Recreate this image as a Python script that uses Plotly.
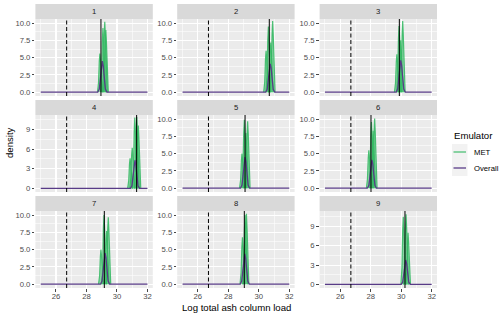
import plotly.graph_objects as go

# ---------------- data ----------------
PANELS = ["1", "2", "3", "4", "5", "6", "7", "8", "9"]
OBSERVED = [28.95, 30.69, 29.88, 31.29, 29.10, 28.02, 29.17, 29.05, 30.25]
THRESHOLD = 26.7
X_TICKS = [26, 28, 30, 32]
X_MINOR = [25, 27, 29, 31]
Y_TICKS_A = [0, 2.5, 5, 7.5, 10]
Y_LABELS_A = ["0.0", "2.5", "5.0", "7.5", "10.0"]
Y_MINOR_A = [1.25, 3.75, 6.25, 8.75]
Y_TICKS_B = [0, 3, 6, 9]
Y_LABELS_B = ["0", "3", "6", "9"]
Y_MINOR_B = [1.5, 4.5, 7.5, 10.5]
SERIES = ["MET", "Overall"]

# Overall emulator density, one curve per panel
OVERALL_X = [
    [25, 28.74, 28.84, 28.92, 28.98, 29.04, 29.10, 29.16, 29.24, 29.34, 32],
    [25, 30.45, 30.55, 30.63, 30.69, 30.75, 30.81, 30.87, 30.95, 31.05, 32],
    [25, 29.67, 29.77, 29.85, 29.91, 29.97, 30.03, 30.09, 30.17, 30.27, 32],
    [25, 30.88, 30.98, 31.06, 31.12, 31.18, 31.24, 31.30, 31.38, 31.48, 32],
    [25, 28.80, 28.90, 28.98, 29.04, 29.10, 29.16, 29.22, 29.30, 29.40, 32],
    [25, 27.78, 27.88, 27.96, 28.02, 28.08, 28.14, 28.20, 28.28, 28.38, 32],
    [25, 28.92, 29.02, 29.10, 29.16, 29.22, 29.28, 29.34, 29.42, 29.52, 32],
    [25, 28.78, 28.88, 28.96, 29.02, 29.08, 29.14, 29.20, 29.28, 29.38, 32],
    [25, 30.00, 30.10, 30.18, 30.24, 30.30, 30.36, 30.42, 30.50, 30.60, 32],
]
OVERALL_Y = [
    [0, 0, 0.45, 2.0, 3.8, 4.5, 3.8, 2.0, 0.45, 0, 0],
    [0, 0, 0.40, 1.8, 3.5, 4.1, 3.5, 1.8, 0.40, 0, 0],
    [0, 0, 0.45, 2.0, 3.9, 4.6, 3.9, 2.0, 0.45, 0, 0],
    [0, 0, 0.40, 1.9, 3.6, 4.3, 3.6, 1.9, 0.40, 0, 0],
    [0, 0, 0.45, 2.0, 3.8, 4.5, 3.8, 2.0, 0.45, 0, 0],
    [0, 0, 0.40, 1.8, 3.5, 4.1, 3.5, 1.8, 0.40, 0, 0],
    [0, 0, 0.45, 2.0, 3.8, 4.5, 3.8, 2.0, 0.45, 0, 0],
    [0, 0, 0.45, 1.95, 3.7, 4.4, 3.7, 1.95, 0.45, 0, 0],
    [0, 0, 0.35, 1.65, 3.2, 3.8, 3.2, 1.65, 0.35, 0, 0],
]

# MET emulator densities (several curves per panel)
met_p1_x = [[28.72, 28.79, 28.84, 28.88, 28.92, 28.97, 29.04],
            [28.92, 28.99, 29.04, 29.08, 29.12, 29.17, 29.24],
            [29.04, 29.11, 29.16, 29.20, 29.24, 29.29, 29.36],
            [29.11, 29.18, 29.23, 29.27, 29.31, 29.36, 29.43]]
met_p1_y = [[0, 1.4, 4.5, 5.6, 4.5, 1.4, 0],
            [0, 2.3, 7.4, 9.3, 7.4, 2.3, 0],
            [0, 2.6, 8.2, 10.2, 8.2, 2.6, 0],
            [0, 2.2, 7.2, 9.0, 7.2, 2.2, 0]]
met_p2_x = [[30.32, 30.39, 30.44, 30.48, 30.52, 30.57, 30.64],
            [30.47, 30.54, 30.59, 30.63, 30.67, 30.72, 30.79],
            [30.63, 30.70, 30.75, 30.79, 30.83, 30.88, 30.95],
            [30.75, 30.82, 30.87, 30.91, 30.95, 31.00, 31.07]]
met_p2_y = [[0, 1.5, 4.8, 6.0, 4.8, 1.5, 0],
            [0, 2.4, 7.6, 9.5, 7.6, 2.4, 0],
            [0, 1.8, 5.8, 7.2, 5.8, 1.8, 0],
            [0, 2.6, 8.2, 10.3, 8.2, 2.6, 0]]
met_p3_x = [[29.56, 29.63, 29.68, 29.72, 29.76, 29.81, 29.88],
            [29.70, 29.77, 29.82, 29.86, 29.90, 29.95, 30.02],
            [29.81, 29.88, 29.93, 29.97, 30.01, 30.06, 30.13],
            [29.94, 30.01, 30.06, 30.10, 30.14, 30.19, 30.26]]
met_p3_y = [[0, 1.4, 4.4, 5.5, 4.4, 1.4, 0],
            [0, 2.4, 7.7, 9.6, 7.7, 2.4, 0],
            [0, 1.9, 6.0, 7.5, 6.0, 1.9, 0],
            [0, 2.6, 8.2, 10.3, 8.2, 2.6, 0]]
met_p4_x = [[30.70, 30.77, 30.82, 30.86, 30.90, 30.95, 31.02],
            [30.84, 30.91, 30.96, 31.00, 31.04, 31.09, 31.16],
            [31.01, 31.08, 31.13, 31.17, 31.21, 31.26, 31.33],
            [31.14, 31.21, 31.26, 31.30, 31.34, 31.39, 31.46],
            [31.24, 31.31, 31.36, 31.40, 31.44, 31.49, 31.56]]
met_p4_y = [[0, 1.2, 3.7, 4.6, 3.7, 1.2, 0],
            [0, 1.6, 5.0, 6.2, 5.0, 1.6, 0],
            [0, 2.7, 8.6, 10.8, 8.6, 2.7, 0],
            [0, 2.7, 8.7, 10.9, 8.7, 2.7, 0],
            [0, 2.4, 7.7, 9.6, 7.7, 2.4, 0]]
met_p5_x = [[28.74, 28.81, 28.86, 28.90, 28.94, 28.99, 29.06],
            [28.89, 28.96, 29.01, 29.05, 29.09, 29.14, 29.21],
            [29.00, 29.07, 29.12, 29.16, 29.20, 29.25, 29.32],
            [29.11, 29.18, 29.23, 29.27, 29.31, 29.36, 29.43]]
met_p5_y = [[0, 1.2, 4.0, 5.0, 4.0, 1.2, 0],
            [0, 2.5, 7.9, 9.9, 7.9, 2.5, 0],
            [0, 2.0, 6.4, 8.0, 6.4, 2.0, 0],
            [0, 2.4, 7.8, 9.7, 7.8, 2.4, 0]]
met_p6_x = [[27.72, 27.79, 27.84, 27.88, 27.92, 27.97, 28.04],
            [27.89, 27.96, 28.01, 28.05, 28.09, 28.14, 28.21],
            [28.00, 28.07, 28.12, 28.16, 28.20, 28.25, 28.32],
            [28.10, 28.17, 28.22, 28.26, 28.30, 28.35, 28.42]]
met_p6_y = [[0, 1.4, 4.4, 5.5, 4.4, 1.4, 0],
            [0, 2.4, 7.7, 9.6, 7.7, 2.4, 0],
            [0, 2.1, 6.6, 8.3, 6.6, 2.1, 0],
            [0, 2.5, 8.1, 10.1, 8.1, 2.5, 0]]
met_p7_x = [[28.79, 28.86, 28.91, 28.95, 28.99, 29.04, 29.11],
            [28.99, 29.06, 29.11, 29.15, 29.19, 29.24, 29.31],
            [29.16, 29.23, 29.28, 29.32, 29.36, 29.41, 29.48],
            [29.27, 29.34, 29.39, 29.43, 29.47, 29.52, 29.59]]
met_p7_y = [[0, 1.2, 4.0, 5.0, 4.0, 1.2, 0],
            [0, 2.5, 8.0, 10.0, 8.0, 2.5, 0],
            [0, 1.9, 6.2, 7.7, 6.2, 1.9, 0],
            [0, 2.4, 7.8, 9.7, 7.8, 2.4, 0]]
met_p8_x = [[28.77, 28.84, 28.89, 28.93, 28.97, 29.02, 29.09],
            [28.94, 29.01, 29.06, 29.10, 29.14, 29.19, 29.26],
            [29.03, 29.10, 29.15, 29.19, 29.23, 29.28, 29.35]]
met_p8_y = [[0, 1.7, 5.4, 6.8, 5.4, 1.7, 0],
            [0, 2.5, 8.0, 10.0, 8.0, 2.5, 0],
            [0, 2.6, 8.2, 10.2, 8.2, 2.6, 0]]
met_p9_x = [[29.98, 30.05, 30.10, 30.14, 30.18, 30.23, 30.30],
            [30.16, 30.23, 30.28, 30.32, 30.36, 30.41, 30.48],
            [30.29, 30.36, 30.41, 30.45, 30.49, 30.54, 30.61]]
met_p9_y = [[0, 2.6, 8.4, 10.5, 8.4, 2.6, 0],
            [0, 2.7, 8.7, 10.9, 8.7, 2.7, 0],
            [0, 2.0, 6.4, 8.0, 6.4, 2.0, 0]]

MET_X = [met_p1_x, met_p2_x, met_p3_x, met_p4_x, met_p5_x, met_p6_x, met_p7_x, met_p8_x, met_p9_x]
MET_Y = [met_p1_y, met_p2_y, met_p3_y, met_p4_y, met_p5_y, met_p6_y, met_p7_y, met_p8_y, met_p9_y]

# ---------------- styling / layout ----------------
W, H = 500, 315
FONT = "Liberation Sans, Arial, Helvetica, sans-serif"
COL_PX = [(35.4, 152.8), (177.2, 294.6), (319.6, 437.0)]
ROW_PX = [(19, 96), (115, 192), (211, 288)]
STRIP_H = 15
X_RANGE = [24.65, 32.35]
MET_LINE = "rgba(50,184,98,0.85)"
MET_FILL = "rgba(50,184,98,0.5)"
OVERALL_COLOR = "#583B87"
TICK_FONT = dict(family=FONT, size=7.7, color="#4D4D4D")


def fx(px):
    return px / W


def fy(py):
    return 1 - py / H


fig = go.Figure()
layout = {}
shapes = []
annotations = []

for i, name in enumerate(PANELS):
    r, c = divmod(i, 3)
    k = "" if i == 0 else str(i + 1)
    xa, ya = "x" + k, "y" + k
    x0, x1 = COL_PX[c]
    y0, y1 = ROW_PX[r]

    for cx, cy in zip(MET_X[i], MET_Y[i]):
        fig.add_trace(go.Scatter(
            x=cx, y=cy, mode="lines", name=SERIES[0],
            line=dict(color=MET_LINE, width=1.2),
            fill="tozeroy", fillcolor=MET_FILL,
            xaxis=xa, yaxis=ya, showlegend=False, hoverinfo="skip"))
    fig.add_trace(go.Scatter(
        x=OVERALL_X[i], y=OVERALL_Y[i], mode="lines", name=SERIES[1],
        line=dict(color=OVERALL_COLOR, width=1.3),
        xaxis=xa, yaxis=ya, showlegend=False, hoverinfo="skip"))

    big = name in ("4", "9")
    ymax = 11.2 if name == "4" else (11.4 if name == "9" else 10.6)

    layout["xaxis" + k] = dict(
        domain=[fx(x0), fx(x1)], anchor=ya, range=X_RANGE,
        tickmode="array", tickvals=X_TICKS, ticktext=[str(t) for t in X_TICKS],
        showticklabels=(r == 2), ticks="outside" if r == 2 else "",
        ticklen=2.5, tickwidth=0.9, tickcolor="#333333", tickfont=TICK_FONT,
        ticklabelstandoff=-2,
        showgrid=True, gridcolor="white", gridwidth=1.1,
        minor=dict(tickvals=X_MINOR, showgrid=True, gridcolor="white", gridwidth=0.55, ticks=""),
        zeroline=False, showline=False, fixedrange=True, automargin=False)
    layout["yaxis" + k] = dict(
        domain=[fy(y1), fy(y0)], anchor=xa, range=[-0.55, ymax],
        tickmode="array",
        tickvals=Y_TICKS_B if big else Y_TICKS_A,
        ticktext=Y_LABELS_B if big else Y_LABELS_A,
        ticks="outside", ticklen=2.5, tickwidth=0.9, tickcolor="#333333", tickfont=TICK_FONT,
        showgrid=True, gridcolor="white", gridwidth=1.1,
        minor=dict(tickvals=Y_MINOR_B if big else Y_MINOR_A, showgrid=True,
                   gridcolor="white", gridwidth=0.55, ticks=""),
        zeroline=False, showline=False, fixedrange=True, automargin=False)

    # strip
    shapes.append(dict(type="rect", xref="paper", yref="paper",
                       x0=fx(x0), x1=fx(x1), y0=fy(y0), y1=fy(y0 - STRIP_H),
                       fillcolor="#D9D9D9", line=dict(width=0), layer="below"))
    annotations.append(dict(text=name, xref="paper", yref="paper",
                            x=fx((x0 + x1) / 2), y=fy(y0 - STRIP_H / 2),
                            showarrow=False, xanchor="center", yanchor="middle",
                            font=dict(family=FONT, size=7.7, color="#1A1A1A")))
    # reference lines
    shapes.append(dict(type="line", xref=xa, yref=ya + " domain",
                       x0=THRESHOLD, x1=THRESHOLD, y0=0, y1=1,
                       line=dict(color="black", width=1, dash="4px,2.5px")))
    shapes.append(dict(type="line", xref=xa, yref=ya + " domain",
                       x0=OBSERVED[i], x1=OBSERVED[i], y0=0, y1=1,
                       line=dict(color="black", width=1)))

# axis titles
annotations.append(dict(text="Log total ash column load", xref="paper", yref="paper",
                        x=fx((COL_PX[0][0] + COL_PX[2][1]) / 2), y=fy(307.5),
                        showarrow=False, xanchor="center", yanchor="middle",
                        font=dict(family=FONT, size=9.6, color="black")))
annotations.append(dict(text="density", xref="paper", yref="paper",
                        x=fx(10), y=fy(143), textangle=-90,
                        showarrow=False, xanchor="center", yanchor="middle",
                        font=dict(family=FONT, size=9.6, color="black")))

# legend (drawn by hand to mimic ggplot keys)
annotations.append(dict(text="Emulator", xref="paper", yref="paper",
                        x=fx(451.5), y=fy(135.5), showarrow=False,
                        xanchor="left", yanchor="middle",
                        font=dict(family=FONT, size=9.6, color="black")))
key_colors = [MET_LINE, OVERALL_COLOR]
for j, s in enumerate(SERIES):
    top = 144 + 16 * j
    shapes.append(dict(type="rect", xref="paper", yref="paper",
                       x0=fx(452), x1=fx(467.5), y0=fy(top + 16), y1=fy(top),
                       fillcolor="#F2F2F2", line=dict(width=0)))
    shapes.append(dict(type="line", xref="paper", yref="paper",
                       x0=fx(453.5), x1=fx(466), y0=fy(top + 8), y1=fy(top + 8),
                       line=dict(color=key_colors[j], width=1.3)))
    annotations.append(dict(text=s, xref="paper", yref="paper",
                            x=fx(471.5), y=fy(top + 8), showarrow=False,
                            xanchor="left", yanchor="middle",
                            font=dict(family=FONT, size=7.7, color="black")))

fig.update_layout(
    width=W, height=H, margin=dict(l=0, r=0, t=0, b=0),
    paper_bgcolor="white", plot_bgcolor="#EBEBEB",
    showlegend=False, font=dict(family=FONT),
    shapes=shapes, annotations=annotations, **layout)

fig.write_html(
    "out.html",
    config={"displayModeBar": False, "staticPlot": True},
    post_script="document.body.style.margin='0';document.body.style.overflow='hidden';")
